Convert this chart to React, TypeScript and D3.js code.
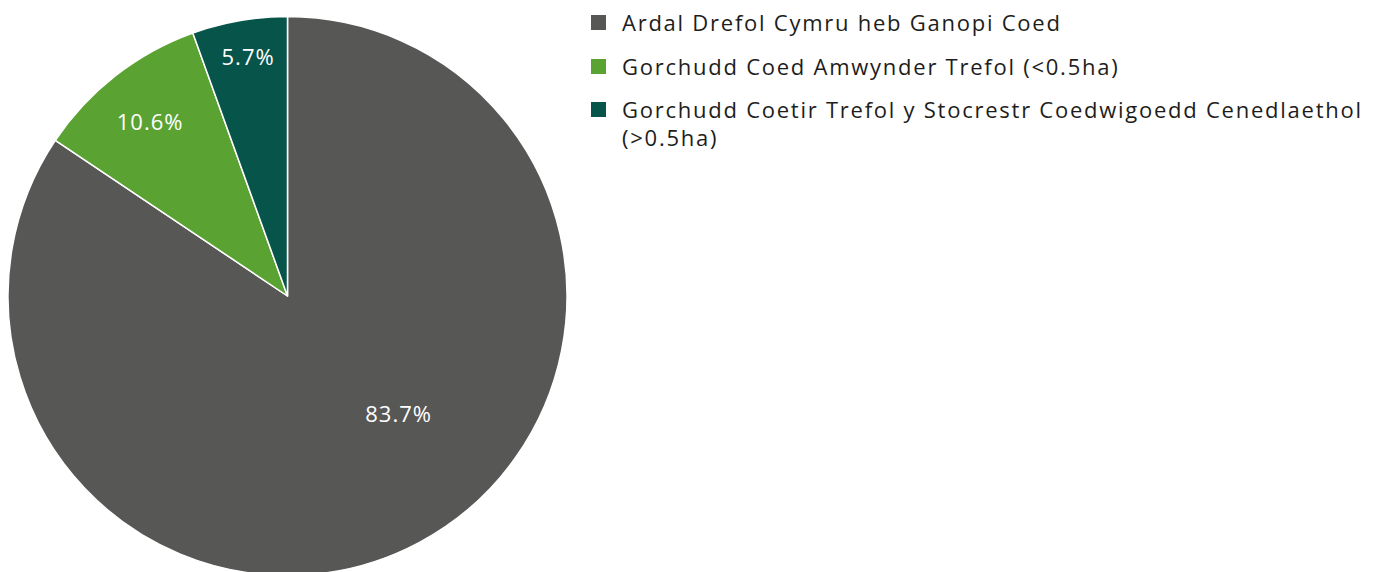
import React from "react";
import * as d3 from "d3";

const categories = [
  "Ardal Drefol Cymru heb Ganopi Coed",
  "Gorchudd Coed Amwynder Trefol (<0.5ha)",
  "Gorchudd Coetir Trefol y Stocrestr Coedwigoedd Cenedlaethol (>0.5ha)",
];
// slice sizes as drawn in the picture
const values = [84.4, 10.1, 5.5];
// data labels as printed
const labels = ["83.7%", "10.6%", "5.7%"];
const colors = ["#575756", "#5aa333", "#07544a"];
const labelRadiusFrac = [0.577, 0.796, 0.87];
const labelAngleShift = [-0.27, -0.003, 0.01];
const legendLines = [
  ["Ardal Drefol Cymru heb Ganopi Coed"],
  ["Gorchudd Coed Amwynder Trefol (<0.5ha)"],
  ["Gorchudd Coetir Trefol y Stocrestr Coedwigoedd Cenedlaethol", "(>0.5ha)"],
];

export default function App() {
  const W = 1381, H = 572;
  const cx = 287.5, cy = 296, R = 279.5;
  const pie = d3.pie<number>().sort(null).value((d) => d);
  const arcs = pie(values);
  const arc = d3.arc<d3.PieArcDatum<number>>().innerRadius(0).outerRadius(R);
  const font = "'Open Sans', sans-serif";
  const legendY = [22, 66, 109];
  return (
    <svg width={W} height={H} style={{ position: "absolute", left: 0, top: 0 }}>
      <rect width={W} height={H} fill="#fff" />
      <g transform={`translate(${cx},${cy})`}>
        {arcs.map((a, i) => (
          <path key={i} d={arc(a) || ""} fill={colors[i]} stroke="#fff" strokeWidth={1.5} strokeLinejoin="round" />
        ))}
        {arcs.map((a, i) => {
          const mid = (a.startAngle + a.endAngle) / 2 + labelAngleShift[i];
          const r = R * labelRadiusFrac[i];
          return (
            <text key={i} x={Math.sin(mid) * r} y={-Math.cos(mid) * r} textAnchor="middle" dominantBaseline="central"
              fill="#fff" fontFamily={font} fontSize={22} letterSpacing={1}>
              {labels[i]}
            </text>
          );
        })}
      </g>
      {categories.map((c, i) => (
        <g key={c}>
          <rect x={591} y={legendY[i] - 7} width={15} height={15} fill={colors[i]} />
          {legendLines[i].map((ln, j) => (
            <text key={j} x={622} y={legendY[i] + j * 28} dominantBaseline="central" fill="#1d1d1b" fontFamily={font} fontSize={22} letterSpacing={1.75}>
              {ln}
            </text>
          ))}
        </g>
      ))}
    </svg>
  );
}
